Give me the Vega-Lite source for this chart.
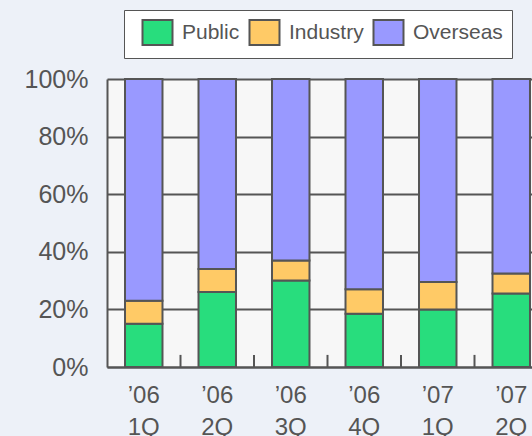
{
  "$schema": "https://vega.github.io/schema/vega-lite/v6.json",
  "width": 425,
  "height": 288,
  "autosize": {"type": "none"},
  "padding": {"left": 107, "top": 79, "right": 0, "bottom": 69},
  "background": "#edf1f8",
  "config": {"view": {"fill": "#f7f7f7", "stroke": null}, "font": "Liberation Sans"},
  "datasets": {
    "shares": [
      {"q": "’06 1Q", "s": "Public", "k": 1, "v": 15},
      {"q": "’06 1Q", "s": "Industry", "k": 2, "v": 8},
      {"q": "’06 1Q", "s": "Overseas", "k": 3, "v": 77},
      {"q": "’06 2Q", "s": "Public", "k": 1, "v": 26},
      {"q": "’06 2Q", "s": "Industry", "k": 2, "v": 8},
      {"q": "’06 2Q", "s": "Overseas", "k": 3, "v": 66},
      {"q": "’06 3Q", "s": "Public", "k": 1, "v": 30},
      {"q": "’06 3Q", "s": "Industry", "k": 2, "v": 7},
      {"q": "’06 3Q", "s": "Overseas", "k": 3, "v": 63},
      {"q": "’06 4Q", "s": "Public", "k": 1, "v": 18.5},
      {"q": "’06 4Q", "s": "Industry", "k": 2, "v": 8.5},
      {"q": "’06 4Q", "s": "Overseas", "k": 3, "v": 73},
      {"q": "’07 1Q", "s": "Public", "k": 1, "v": 20},
      {"q": "’07 1Q", "s": "Industry", "k": 2, "v": 9.5},
      {"q": "’07 1Q", "s": "Overseas", "k": 3, "v": 70.5},
      {"q": "’07 2Q", "s": "Public", "k": 1, "v": 25.5},
      {"q": "’07 2Q", "s": "Industry", "k": 2, "v": 7},
      {"q": "’07 2Q", "s": "Overseas", "k": 3, "v": 67.5}
    ],
    "ticks": [
      {"q": "’06 2Q"}, {"q": "’06 3Q"}, {"q": "’06 4Q"}, {"q": "’07 1Q"}, {"q": "’07 2Q"}
    ]
  },
  "layer": [
    {
      "data": {"name": "shares"},
      "mark": {"type": "bar", "stroke": "#555", "strokeWidth": 2, "width": {"band": 0.51}},
      "encoding": {
        "x": {
          "field": "q", "type": "nominal", "sort": null,
          "scale": {"range": [0, 441], "paddingInner": 0, "paddingOuter": 0},
          "axis": {
            "title": null, "labelExpr": "isValid(datum.value) ? split(datum.value, ' ') : ''", "labelFontSize": 24,
            "labelColor": "#555", "labelLineHeight": 32, "labelPadding": 16, "labelAngle": 0,
            "domainColor": "#555", "domainWidth": 2, "ticks": false, "grid": false
          }
        },
        "y": {
          "field": "v", "type": "quantitative", "stack": "zero",
          "scale": {"domain": [0, 100]},
          "axis": {
            "title": null, "values": [0, 20, 40, 60, 80, 100], "labelExpr": "datum.value + '%'",
            "labelFontSize": 25, "labelColor": "#555", "labelPadding": 19, "ticks": false,
            "domainColor": "#555", "domainWidth": 2, "grid": true, "gridColor": "#555", "gridWidth": 2
          }
        },
        "color": {
          "field": "s", "type": "nominal",
          "sort": ["Public", "Industry", "Overseas"],
          "scale": {"domain": ["Public", "Industry", "Overseas"], "range": ["#28dd7d", "#ffca66", "#9999ff"]},
          "legend": {
            "title": null, "orient": "none", "legendX": 17, "legendY": -69, "direction": "horizontal",
            "fillColor": "#ffffff", "strokeColor": "#555", "padding": 9, "gridAlign": "none",
            "labelFontSize": 21, "labelColor": "#555", "labelOffset": 11, "columnPadding": 0,
            "symbolOffset": 11,
            "symbolType": "M-1.2,-1H1.2V1H-1.2Z", "symbolSize": 625,
            "symbolStrokeColor": "#555", "symbolStrokeWidth": 2, "symbolOpacity": 1
          }
        },
        "order": {"field": "k", "type": "quantitative"}
      }
    },
    {
      "data": {"name": "ticks"},
      "mark": {"type": "rule", "color": "#555", "strokeWidth": 2},
      "encoding": {
        "x": {"field": "q", "type": "nominal", "sort": null, "bandPosition": 0},
        "y": {"datum": 0},
        "y2": {"datum": 4.2}
      }
    }
  ]
}
